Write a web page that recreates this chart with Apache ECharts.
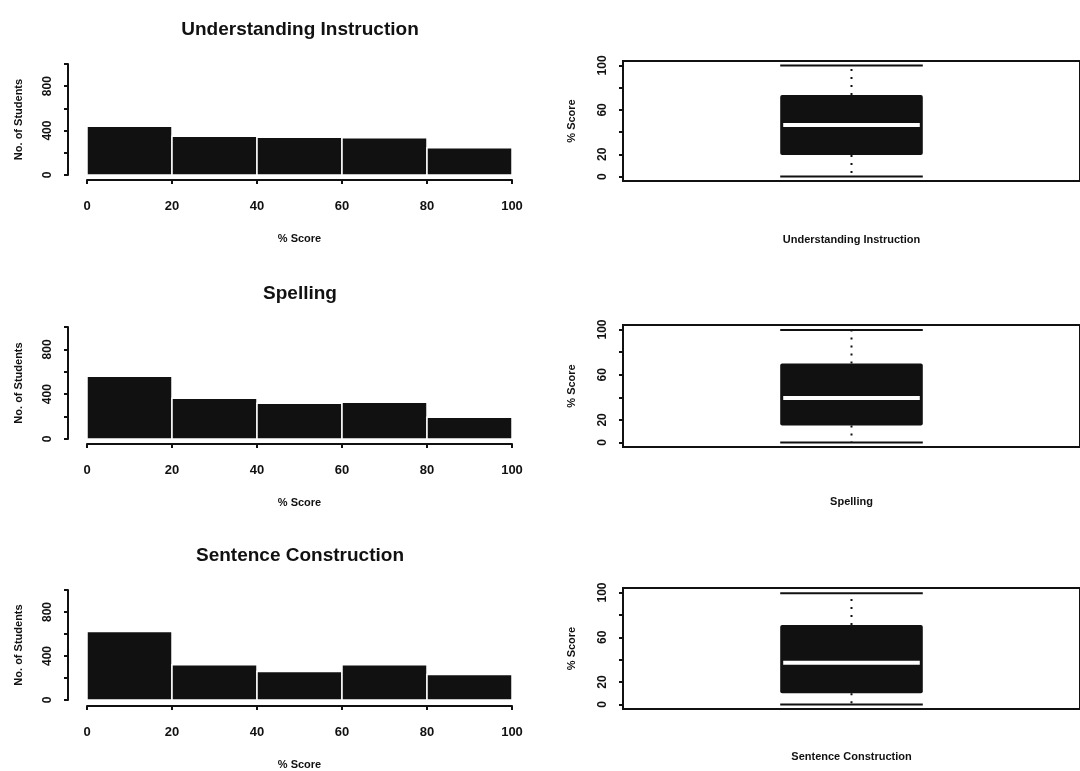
<!DOCTYPE html>
<html>
<head>
<meta charset="utf-8">
<script src="https://cdn.jsdelivr.net/npm/echarts@6/dist/echarts.min.js"></script>
<style>
  html, body { margin: 0; padding: 0; background: #fff; }
  #chart { width: 1080px; height: 771px; }
</style>
</head>
<body>
<div id="chart"></div>
<script>
// histogram bins (% score) and counts per bin
const binEdges = [0, 20, 40, 60, 80, 100];
const understandingCounts = [440, 348, 339, 336, 245];
const spellingCounts = [560, 364, 320, 329, 195];
const sentenceCounts = [622, 320, 258, 320, 231];

// boxplot stats: [min, q1, median, q3, max]
const understandingBox = [0, 19.5, 46.4, 73.4, 100];
const spellingBox = [0, 15, 39.4, 70, 99.5];
const sentenceBox = [0, 10, 37.3, 71, 99.3];

const panelTitles = ['Understanding Instruction', 'Spelling', 'Sentence Construction'];
const histYTicks = [0, 200, 400, 600, 800, 1000];
const histYLabels = [0, 400, 800];
const boxYTicks = [0, 20, 40, 60, 80, 100];
const boxYLabels = [0, 20, 60, 100];

const FONT = '"Liberation Sans", Arial, sans-serif';

function toBins(counts) {
  return counts.map((c, i) => [binEdges[i], binEdges[i + 1], c]);
}

// layout for the three rows (pixels)
const histRows = [
  {top: 64, height: 111, offset: 5, titleTop: 15},
  {top: 327, height: 112, offset: 5, titleTop: 279},
  {top: 590, height: 113, offset: 6, titleTop: 541}
];
const boxRows = [
  {top: 61, height: 120, nameGap: 53},
  {top: 325, height: 122, nameGap: 49},
  {top: 588, height: 121, nameGap: 42}
];

const histData = [toBins(understandingCounts), toBins(spellingCounts), toBins(sentenceCounts)];
const boxData = [understandingBox, spellingBox, sentenceBox];

const grids = [], xAxes = [], yAxes = [], series = [], titles = [];

histRows.forEach((r, i) => {
  grids.push({left: 87, width: 425, top: r.top, height: r.height});
  titles.push({
    text: panelTitles[i], left: 295, top: r.titleTop, textAlign: 'center',
    textStyle: {fontFamily: FONT, fontSize: 19, fontWeight: 'bold', color: '#111'}
  });
  xAxes.push({
    type: 'value', gridIndex: i, min: 0, max: 100, interval: 20, offset: r.offset,
    name: '% Score', nameLocation: 'middle', nameGap: 53,
    nameTextStyle: {fontFamily: FONT, fontSize: 11, fontWeight: 'bold', color: '#111'},
    axisLine: {onZero: false, lineStyle: {color: '#111', width: 2}},
    axisTick: {length: 4, lineStyle: {color: '#111', width: 2}},
    axisLabel: {margin: 20, fontFamily: FONT, fontSize: 13, fontWeight: 'bold', color: '#111'},
    splitLine: {show: false}
  });
  yAxes.push({
    type: 'value', gridIndex: i, min: 0, max: 1000, offset: 19,
    name: 'No. of Students', nameLocation: 'middle', nameGap: 44, nameRotate: 90,
    nameTextStyle: {fontFamily: FONT, fontSize: 11, fontWeight: 'bold', color: '#111'},
    axisLine: {show: true, onZero: false, lineStyle: {color: '#111', width: 2}},
    axisTick: {show: true, length: 4, customValues: histYTicks, lineStyle: {color: '#111', width: 2}},
    axisLabel: {rotate: 90, margin: 14, customValues: histYLabels, fontFamily: FONT, fontSize: 12, fontWeight: 'bold', color: '#111'},
    splitLine: {show: false}
  });
  series.push({
    type: 'custom', xAxisIndex: i, yAxisIndex: i, data: histData[i],
    encode: {x: [0, 1], y: 2},
    renderItem: function (params, api) {
      const p0 = api.coord([api.value(0), api.value(2)]);
      const p1 = api.coord([api.value(1), 0]);
      return {
        type: 'rect',
        shape: {x: p0[0], y: p0[1], width: p1[0] - p0[0], height: p1[1] - p0[1]},
        style: {fill: '#111', stroke: '#fff', lineWidth: 1.5}
      };
    }
  });
});

boxRows.forEach((r, j) => {
  const i = j + 3;
  grids.push({
    left: 623, width: 468, top: r.top, height: r.height,
    show: true, borderColor: '#111', borderWidth: 2, backgroundColor: 'transparent'
  });
  xAxes.push({
    type: 'value', gridIndex: i, min: 0, max: 2,
    name: panelTitles[j], nameLocation: 'middle', nameGap: r.nameGap,
    nameTextStyle: {fontFamily: FONT, fontSize: 11, fontWeight: 'bold', color: '#111'},
    axisLine: {show: false}, axisTick: {show: false}, axisLabel: {show: false},
    splitLine: {show: false}
  });
  yAxes.push({
    type: 'value', gridIndex: i, min: -4, max: 104,
    name: '% Score', nameLocation: 'middle', nameGap: 46, nameRotate: 90,
    nameTextStyle: {fontFamily: FONT, fontSize: 11, fontWeight: 'bold', color: '#111'},
    axisLine: {show: true, onZero: false, lineStyle: {color: '#111', width: 2}},
    axisTick: {show: true, length: 4, customValues: boxYTicks, lineStyle: {color: '#111', width: 2}},
    axisLabel: {rotate: 90, margin: 14, customValues: boxYLabels, fontFamily: FONT, fontSize: 12, fontWeight: 'bold', color: '#111'},
    splitLine: {show: false}
  });
  series.push({
    type: 'custom', xAxisIndex: i, yAxisIndex: i,
    data: [[1].concat(boxData[j])],
    encode: {x: 0, y: [1, 2, 3, 4, 5]},
    renderItem: function (params, api) {
      const cx = api.value(0);
      const hw = 0.312;
      const lo = api.coord([cx - hw, api.value(1)]);
      const hi = api.coord([cx + hw, api.value(5)]);
      const q1 = api.coord([cx - hw, api.value(2)]);
      const q3 = api.coord([cx + hw, api.value(4)]);
      const med = api.coord([cx, api.value(3)]);
      const mid = api.coord([cx, 0])[0];
      return {
        type: 'group',
        children: [
          {type: 'line', shape: {x1: mid, y1: q3[1], x2: mid, y2: hi[1]},
            style: {stroke: '#111', lineWidth: 2, lineDash: [2, 6]}},
          {type: 'line', shape: {x1: mid, y1: q1[1], x2: mid, y2: lo[1]},
            style: {stroke: '#111', lineWidth: 2, lineDash: [2, 6]}},
          {type: 'line', shape: {x1: lo[0], y1: hi[1], x2: hi[0], y2: hi[1]},
            style: {stroke: '#111', lineWidth: 2}},
          {type: 'line', shape: {x1: lo[0], y1: lo[1], x2: hi[0], y2: lo[1]},
            style: {stroke: '#111', lineWidth: 2}},
          {type: 'rect', shape: {x: q1[0], y: q3[1], width: q3[0] - q1[0], height: q1[1] - q3[1], r: 2},
            style: {fill: '#111'}},
          {type: 'line', shape: {x1: q1[0] + 3, y1: med[1], x2: q3[0] - 3, y2: med[1]},
            style: {stroke: '#fff', lineWidth: 4}}
        ]
      };
    }
  });
});

const chart = echarts.init(document.getElementById('chart'));
chart.setOption({
  animation: false,
  backgroundColor: '#fff',
  title: titles,
  grid: grids,
  xAxis: xAxes,
  yAxis: yAxes,
  series: series
});
</script>
</body>
</html>
